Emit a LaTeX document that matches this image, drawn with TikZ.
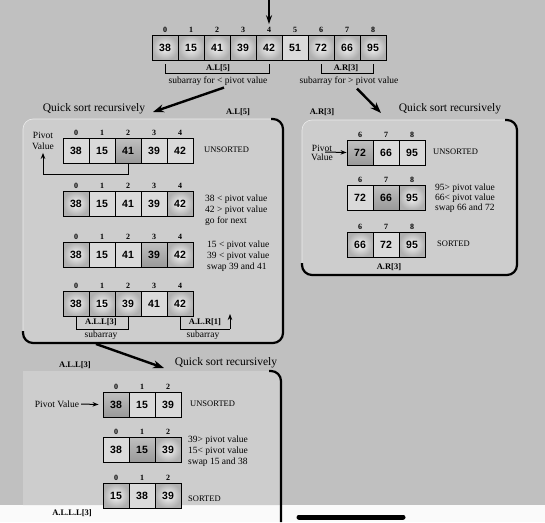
\documentclass[tikz,border=0pt]{standalone}
\usepackage{fontspec}
\setmainfont{Liberation Serif}
\newfontfamily\cellfont{Liberation Sans}
\usetikzlibrary{arrows.meta}
\definecolor{bg}{RGB}{192,192,192}
\definecolor{boxbg}{RGB}{205,205,205}
\definecolor{cellbg}{RGB}{218,218,218}
\tikzset{
 cell/.style={draw=black, line width=0.9pt, minimum width=26pt, minimum height=25pt, inner sep=0pt, font=\cellfont\bfseries\fontsize{10.5}{12}\selectfont},
 pl/.style={fill=cellbg},
 sh/.style={inner color=white!92!gray, outer color=gray!62},
 dk/.style={top color=gray!50, bottom color=gray!80},
 shd/.style={#1},
 idx/.style={font=\bfseries\fontsize{8}{9}\selectfont, inner sep=0pt},
 txt/.style={font=\fontsize{9.5}{11}\selectfont, inner sep=0pt, align=left},
 stt/.style={font=\fontsize{8.5}{10}\selectfont, inner sep=0pt},
 ttl/.style={font=\fontsize{11.5}{13}\selectfont, inner sep=0pt},
 lbl/.style={font=\bfseries\fontsize{8.5}{10}\selectfont, inner sep=0pt},
 arr/.style={-{Stealth[length=6pt,width=4.5pt]}, line width=1pt},
 bigarr/.style={-{Stealth[length=11pt,width=8pt]}, line width=2.4pt},
 edge/.style={line width=2.2pt, rounded corners=10pt},
 boxfill/.style={fill=boxbg, draw=white!85!gray, line width=0.6pt, rounded corners=10pt},
}
\newcommand\cellrow[4]{%
 \foreach \i/\v/\s [count=\k from 0] in {#4}{%
   \node[cell,shd/.expanded=\s] (#1\k) at ({#2+13+26*\k},{#3+12.5}) {\v};
   \node[idx] (#1i\k) at ({#2+13+26*\k},{#3-5}) {\i};
 }}
\begin{document}
\begin{tikzpicture}[x=1pt,y=-1pt]
\useasboundingbox (0,0) rectangle (545,522);
\fill[bg] (0,0) rectangle (545,505);
\fill[white!96!gray] (0,505) rectangle (545,522);
% boxes
\path[boxfill] (23,119) rectangle (283,343);
\draw[edge] (271,119) -- (283,119) -- (283,343) -- (23,343) -- (23,331);
\path[boxfill] (302,120) rectangle (517,275);
\draw[edge] (505,120) -- (517,120) -- (517,275) -- (302,275) -- (302,263);
\fill[boxbg] (23,381) -- (23,371) -- (271,371) arc[start angle=90,end angle=0,radius=10pt] -- (281,505) -- (23,505) -- cycle;
\draw[edge] (269,371) -- (281,371) -- (281,522);
% top array
\coordinate (topin) at (269,0);
\cellrow{T}{152}{35}{0/38/sh,1/15/sh,2/41/sh,3/39/sh,4/42/sh,5/51/pl,6/72/sh,7/66/sh,8/95/sh}
\draw[-{Stealth[length=9pt,width=6pt]}, line width=1.5pt, shorten >=3pt] (topin) -- (Ti4.north);
\draw[line width=0.8pt] (T0.south |- 0,64) -- (T0.south |- 0,73) -- (T4.south |- 0,73) -- (T4.south |- 0,64);
\draw[line width=0.8pt] (T6.south |- 0,64) -- (T6.south |- 0,73) -- (T8.south |- 0,73) -- (T8.south |- 0,64);
\node[lbl] (al5) at (218,68) {A.L[5]};
\node[lbl] (ar3) at (346,68) {A.R[3]};
\node[txt] (subL) at (218,81) {subarray for < pivot value};
\node[txt] (subR) at (349,81) {subarray for > pivot value};
\node[ttl] (qs1) at (94,109) {Quick sort recursively};
\node[lbl] (al5b) at (238,112) {A.L[5]};
\node[ttl] (qs2) at (450,109) {Quick sort recursively};
\node[lbl] (ar3b) at (322,112) {A.R[3]};
\coordinate (tipL) at (153,112);
\coordinate (tipR) at (381,113);
\draw[bigarr] ([xshift=6pt]subL.south) ++(0,2) -- (tipL);
\draw[bigarr] ([xshift=8pt]subR.south) ++(0,3) -- (tipR);
% left box
\cellrow{La}{63}{138}{0/38/pl,1/15/pl,2/41/dk,3/39/pl,4/42/pl}
\node[txt, align=center] (pivL) at (43,141) {Pivot\\Value};
\node[stt, anchor=west] (uns1) at (204,150) {UNSORTED};
\draw[arr] (La2.south) -- ++(0,11) -| ([yshift=-3pt]pivL.south);
\cellrow{Lb}{63}{191}{0/38/sh,1/15/pl,2/41/pl,3/39/pl,4/42/sh}
\node[txt, anchor=west] (tLb) at (205,210) {38 < pivot value\\42 > pivot value\\go for next};
\cellrow{Lc}{63}{242}{0/38/sh,1/15/pl,2/41/pl,3/39/dk,4/42/sh}
\node[txt, anchor=west] (tLc) at (207,256) {15 < pivot value\\39 < pivot value\\swap 39 and 41};
\cellrow{Ld}{63}{291}{0/38/sh,1/15/sh,2/39/sh,3/41/pl,4/42/sh}
\draw[line width=0.8pt] (Ld0.south |- 0,317) -- (Ld0.south |- 0,329) -- (Ld2.south |- 0,329) -- (Ld2.south |- 0,317);
\coordinate (alrtip) at (230,314);
\draw[line width=0.8pt] (Ld4.south |- 0,317) -- (Ld4.south |- 0,329) -- (230,329);
\draw[arr, line width=0.8pt] (230,329) -- (alrtip);
\node[lbl] (all3) at (101,322) {A.L.L[3]};
\node[txt] (sub1) at (101,335) {subarray};
\node[lbl] (alr1) at (205,322) {A.L.R[1]};
\node[txt] (sub2) at (203,335) {subarray};
% right box
\cellrow{Ra}{347}{140}{6/72/dk,7/66/pl,8/95/pl}
\node[txt, anchor=south] (pivRa) at (322,152) {Pivot};
\node[txt, anchor=north] (pivRb) at (322,154) {Value};
\draw[arr] ([xshift=-7pt]pivRa.south east) -- (Ra0.west);
\node[stt, anchor=west] (uns2) at (433,152) {UNSORTED};
\cellrow{Rb}{347}{185}{6/72/pl,7/66/dk,8/95/sh}
\node[txt, anchor=west, font=\fontsize{9.5}{10}\selectfont] (tRb) at (435,198) {95> pivot value\\66< pivot value\\swap 66 and 72};
\cellrow{Rc}{347}{232}{6/66/sh,7/72/pl,8/95/sh}
\node[stt, anchor=west] (sor1) at (437,244) {SORTED};
\node[lbl] (ar3c) at (389,267) {A.R[3]};
% bottom box
\coordinate (lbb) at (96,344);
\coordinate (tipB) at (164,368);
\draw[bigarr] (lbb) -- (tipB);
\node[lbl] (all3b) at (75,365) {A.L.L[3]};
\node[ttl] (qs3) at (226,363) {Quick sort recursively};
\cellrow{Ba}{103}{392}{0/38/dk,1/15/pl,2/39/pl}
\node[txt] (pivB) at (57,404) {Pivot Value};
\draw[arr] ([xshift=2pt]pivB.east) -- ([xshift=-4pt]Ba0.west);
\node[stt, anchor=west] (uns3) at (190,404) {UNSORTED};
\cellrow{Bb}{103}{437}{0/38/pl,1/15/dk,2/39/sh}
\node[txt, anchor=west] (tBb) at (188,451) {39> pivot value\\15< pivot value\\swap 15 and 38};
\cellrow{Bc}{103}{483}{0/15/sh,1/38/pl,2/39/sh}
\node[stt, anchor=west] (sor2) at (188,499) {SORTED};
\node[lbl] (alll3) at (72,513) {A.L.L.L[3]};
\draw[line width=5pt, line cap=round] (299,517) -- (403,517);
\end{tikzpicture}
\end{document}
